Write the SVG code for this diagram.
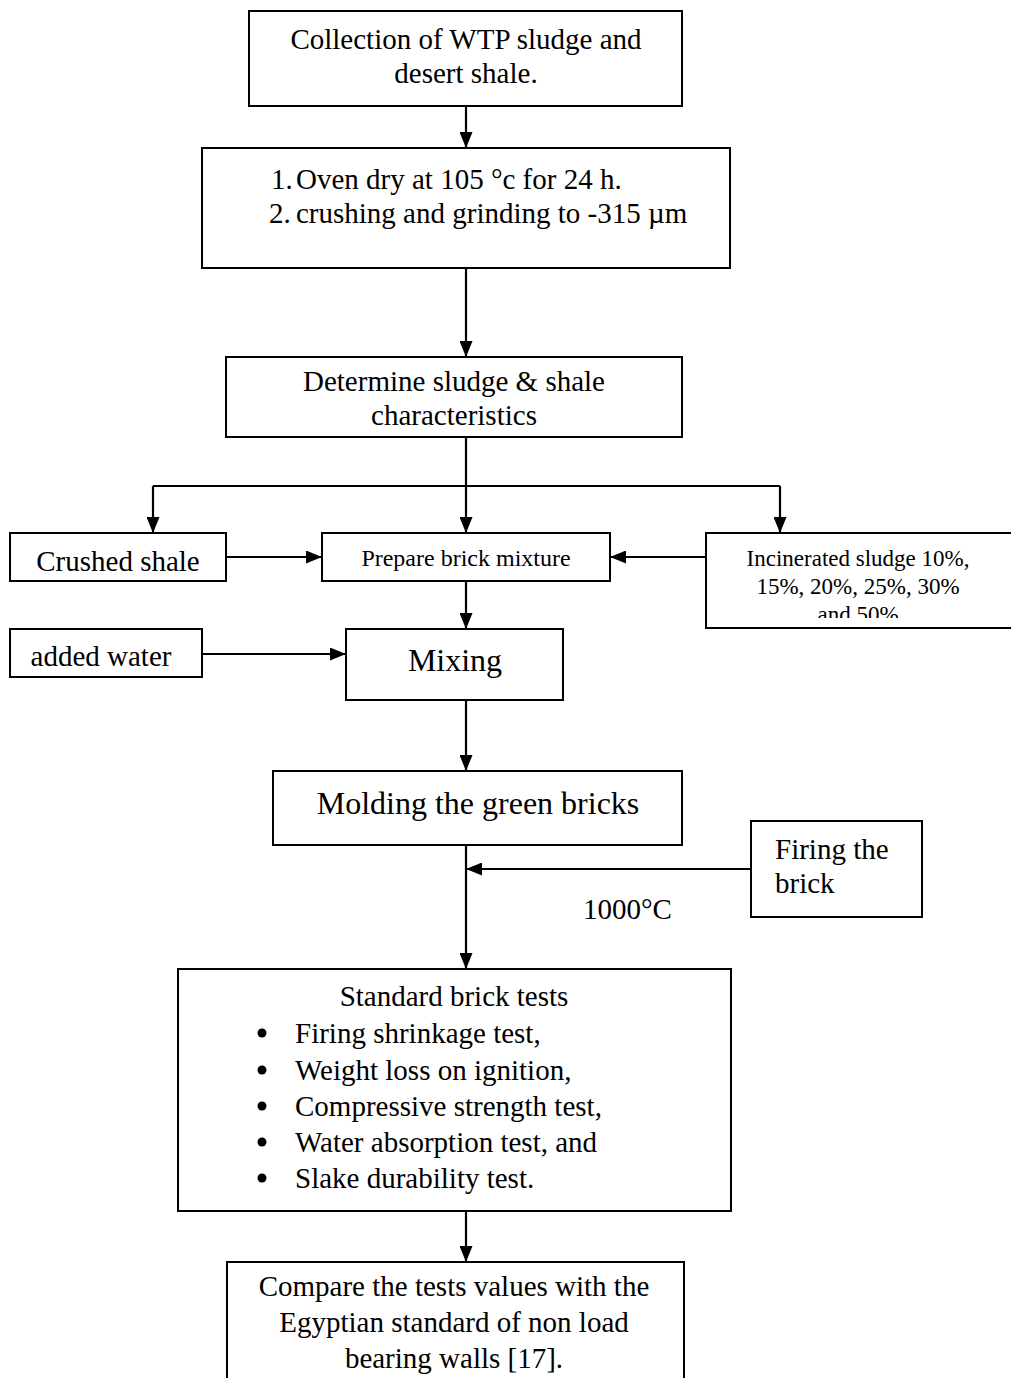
<svg xmlns="http://www.w3.org/2000/svg" width="1011" height="1378" viewBox="0 0 1011 1378">
<style>
.box{fill:#fff;stroke:#000;stroke-width:2}
.t{font-family:"Liberation Serif","Times New Roman",serif;fill:#000}
.c{text-anchor:middle}
.ln{stroke:#000;stroke-width:2.2;fill:none}
</style>
<defs>
<marker id="ah" markerUnits="userSpaceOnUse" markerWidth="16" markerHeight="13" refX="16" refY="6.5" orient="auto">
<path d="M0,0 L16,6.5 L0,13 z" fill="#000"/>
</marker>
<clipPath id="clipInc"><rect x="706" y="533" width="320" height="85"/></clipPath>
</defs>
<rect width="1011" height="1378" fill="#fff"/>
<g id="connectors">
<line class="ln" x1="466" y1="106" x2="466" y2="148" marker-end="url(#ah)"/>
<line class="ln" x1="466" y1="268" x2="466" y2="357" marker-end="url(#ah)"/>
<line class="ln" x1="466" y1="437" x2="466" y2="486"/>
<line class="ln" x1="153" y1="486" x2="780" y2="486"/>
<line class="ln" x1="153" y1="486" x2="153" y2="533" marker-end="url(#ah)"/>
<line class="ln" x1="466" y1="486" x2="466" y2="533" marker-end="url(#ah)"/>
<line class="ln" x1="780" y1="486" x2="780" y2="533" marker-end="url(#ah)"/>
<line class="ln" x1="226" y1="557" x2="322" y2="557" marker-end="url(#ah)"/>
<line class="ln" x1="706" y1="557" x2="610" y2="557" marker-end="url(#ah)"/>
<line class="ln" x1="466" y1="581" x2="466" y2="629" marker-end="url(#ah)"/>
<line class="ln" x1="202" y1="654" x2="346" y2="654" marker-end="url(#ah)"/>
<line class="ln" x1="466" y1="700" x2="466" y2="771" marker-end="url(#ah)"/>
<line class="ln" x1="466" y1="845" x2="466" y2="969" marker-end="url(#ah)"/>
<line class="ln" x1="751" y1="869" x2="466" y2="869" marker-end="url(#ah)"/>
<line class="ln" x1="466" y1="1211" x2="466" y2="1262" marker-end="url(#ah)"/>
</g>
<g id="n1">
<rect class="box" x="249" y="11" width="433" height="95"/>
<text class="t c" x="466" y="49" font-size="29">Collection of WTP sludge and</text>
<text class="t c" x="466" y="83" font-size="29">desert shale.</text>
</g>
<g id="n2">
<rect class="box" x="202" y="148" width="528" height="120"/>
<text class="t" x="271" y="189" font-size="29">1.</text>
<text class="t" x="296" y="189" font-size="29">Oven dry at 105 °c for 24 h.</text>
<text class="t" x="269" y="223" font-size="29">2.</text>
<text class="t" x="296" y="223" font-size="29">crushing and grinding to -315 µm</text>
</g>
<g id="n3">
<rect class="box" x="226" y="357" width="456" height="80"/>
<text class="t c" x="454" y="391" font-size="29">Determine sludge &amp; shale</text>
<text class="t c" x="454" y="425" font-size="29">characteristics</text>
</g>
<g id="n4">
<rect class="box" x="10" y="533" width="216" height="48"/>
<text class="t c" x="118" y="571" font-size="29">Crushed shale</text>
</g>
<g id="n5">
<rect class="box" x="322" y="533" width="288" height="48"/>
<text class="t c" x="466" y="566" font-size="24">Prepare brick mixture</text>
</g>
<g id="n6">
<rect class="box" x="706" y="533" width="320" height="95"/>
<g clip-path="url(#clipInc)">
<text class="t c" x="858" y="566" font-size="23">Incinerated sludge 10%,</text>
<text class="t c" x="858" y="594" font-size="23">15%, 20%, 25%, 30%</text>
<text class="t c" x="858" y="622" font-size="23">and 50%</text>
</g>
</g>
<g id="n7">
<rect class="box" x="10" y="629" width="192" height="48"/>
<text class="t c" x="101" y="666" font-size="29">added water</text>
</g>
<g id="n8">
<rect class="box" x="346" y="629" width="217" height="71"/>
<text class="t c" x="455" y="671" font-size="32">Mixing</text>
</g>
<g id="n9">
<rect class="box" x="273" y="771" width="409" height="74"/>
<text class="t c" x="478" y="814" font-size="32">Molding the green bricks</text>
</g>
<g id="n10">
<rect class="box" x="751" y="821" width="171" height="96"/>
<text class="t" x="775" y="859" font-size="29">Firing the</text>
<text class="t" x="775" y="893" font-size="29">brick</text>
</g>
<text class="t" x="583" y="919" font-size="29">1000°C</text>
<g id="n11">
<rect class="box" x="178" y="969" width="553" height="242"/>
<text class="t c" x="454" y="1006" font-size="29">Standard brick tests</text>
<g font-size="29">
<circle cx="262" cy="1033" r="4.5"/>
<text class="t" x="295" y="1043">Firing shrinkage test,</text>
<circle cx="262" cy="1070" r="4.5"/>
<text class="t" x="295" y="1080">Weight loss on ignition,</text>
<circle cx="262" cy="1106" r="4.5"/>
<text class="t" x="295" y="1116">Compressive strength test,</text>
<circle cx="262" cy="1142" r="4.5"/>
<text class="t" x="295" y="1152">Water absorption test, and</text>
<circle cx="262" cy="1178" r="4.5"/>
<text class="t" x="295" y="1188">Slake durability test.</text>
</g>
</g>
<g id="n12">
<rect class="box" x="227" y="1262" width="457" height="140"/>
<text class="t c" x="454" y="1296" font-size="29">Compare the tests values with the</text>
<text class="t c" x="454" y="1332" font-size="29">Egyptian standard of non load</text>
<text class="t c" x="454" y="1368" font-size="29">bearing walls [17].</text>
</g>
</svg>
